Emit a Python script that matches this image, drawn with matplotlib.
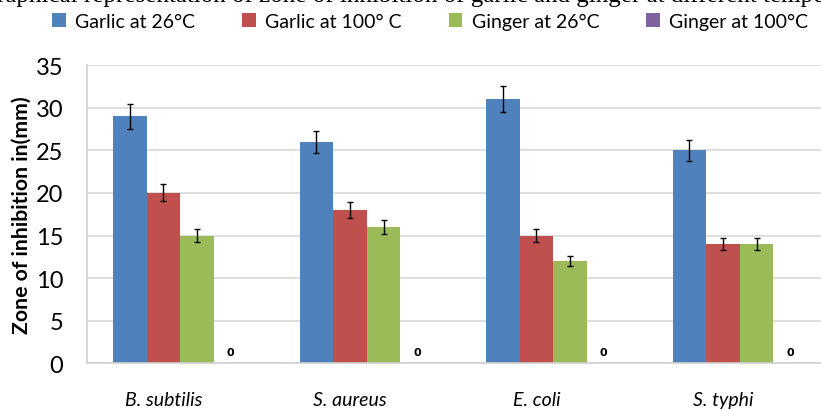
import numpy as np
import matplotlib
matplotlib.use('agg')
import matplotlib.pyplot as plt

organisms = ["B. subtilis", "S. aureus", "E. coli", "S. typhi"]
series = ["Garlic at 26°C", "Garlic at 100° C", "Ginger at 26°C", "Ginger at 100°C"]
garlic_26 = [29, 26, 31, 25]
garlic_100 = [20, 18, 15, 14]
ginger_26 = [15, 16, 12, 14]
ginger_100 = [0, 0, 0, 0]
err_garlic_26 = [1.45, 1.3, 1.55, 1.25]
err_garlic_100 = [1.0, 0.9, 0.75, 0.7]
err_ginger_26 = [0.75, 0.8, 0.6, 0.7]
caption = "Graphical representation of zone of inhibition of garlic and ginger at different temperatures"

colors = ["#4F81BD", "#C0504D", "#9BBB59", "#8064A2"]
plt.rcParams['font.family'] = ['Lato', 'DejaVu Sans']

fig = plt.figure(figsize=(8.21, 4.10), dpi=100)
ax = fig.add_axes([0.106, 0.111, 0.9086, 0.728])

x = np.arange(len(organisms))
w = 0.18
values = [garlic_26, garlic_100, ginger_26, ginger_100]
errors = [err_garlic_26, err_garlic_100, err_ginger_26, None]
handles = []
for i, (vals, errs) in enumerate(zip(values, errors)):
    pos = x + (i - 1.5) * w
    bars = ax.bar(pos, vals, w, color=colors[i], label=series[i], zorder=2)
    handles.append(bars)
    if errs is not None:
        ax.errorbar(pos, vals, yerr=errs, fmt='none', ecolor='black',
                    elinewidth=1, capsize=2.5, capthick=1, zorder=3)
    else:
        ax.bar_label(bars, labels=[str(v) for v in vals], padding=5,
                     fontsize=8, fontweight='bold', family='DejaVu Sans')

ax.set_xlim(-0.5, 3.5)
ax.set_ylim(0, 35)
ax.set_yticks(range(0, 36, 5))
# category labels sit under the first three bars of each group
ax.set_xticks(x - 0.5 * w)
ax.set_xticklabels(organisms, style='italic', fontsize=14)
ax.tick_params(axis='x', length=0, pad=20)
ax.tick_params(axis='y', length=0, labelsize=17, pad=17)
ax.yaxis.grid(True, color='#d9d9d9', linewidth=1.2, zorder=0)
ax.set_axisbelow(True)
for s in ['top', 'right']:
    ax.spines[s].set_visible(False)
for s in ['left', 'bottom']:
    ax.spines[s].set_color('#d0d0d0')
    ax.spines[s].set_linewidth(1.2)
ax.set_ylabel("Zone of inhibition in(mm)", fontsize=15.3, fontweight='bold', labelpad=3)

fig.legend(handles=handles, labels=series, loc='center', bbox_to_anchor=(0.524, 0.945),
           ncol=4, frameon=False, fontsize=14, handlelength=0.7, handleheight=0.7,
           handletextpad=0.5, columnspacing=2.4)

# caption of the source figure, cut by the top edge as in the original crop
fig.text(-0.026, 0.995, caption, family='Liberation Serif', fontsize=18,
         ha='left', va='baseline')

fig.savefig("out.png", dpi=100)
